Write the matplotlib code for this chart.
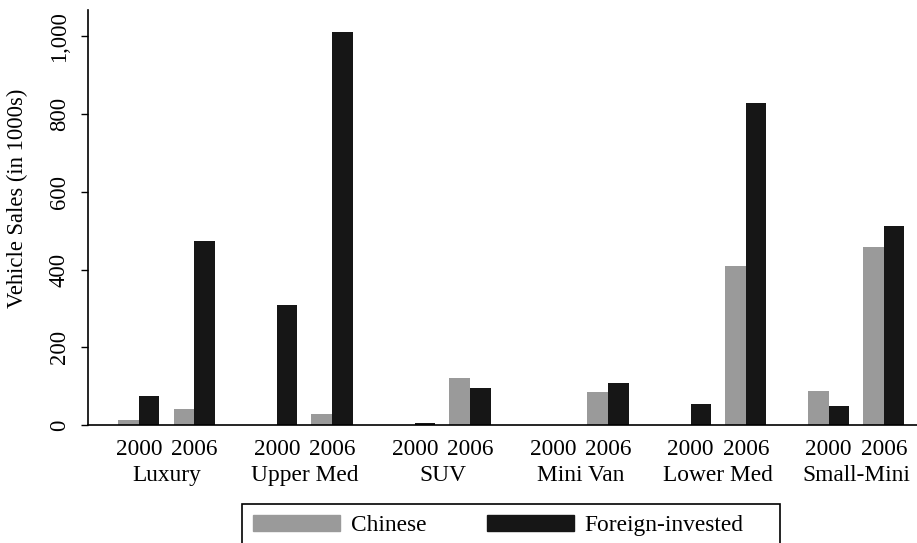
import numpy as np
import matplotlib.pyplot as plt
from matplotlib.patches import Patch, Rectangle

# Vehicle sales (in 1000s)
categories = ['Luxury', 'Upper Med', 'SUV', 'Mini Van', 'Lower Med', 'Small-Mini']
years = ['2000', '2006']
chinese_2000 = [13, 0, 0, 0, 0, 88]
foreign_2000 = [75, 309, 5, 0, 54, 49]
chinese_2006 = [41, 28, 121, 85, 409, 458]
foreign_2006 = [474, 1012, 95, 108, 829, 512]

GRAY = '#9a9a9a'
BLACK = '#161616'
FS = 16.8
W, H = 917, 543

plt.rcParams['font.family'] = ['Liberation Serif', 'DejaVu Serif']

fig = plt.figure(figsize=(W / 100, H / 100), dpi=100)
ax = fig.add_axes([88 / W, 1 - 425 / H, 1 - 88 / W, (425 - 10) / H])

centers = np.arange(len(categories))
off = 0.2     # year pair offset from category center
w = 0.149     # bar width

for yr_off, chin, forg in [(-off, chinese_2000, foreign_2000), (off, chinese_2006, foreign_2006)]:
    ax.bar(centers + yr_off - w / 2, chin, width=w, color=GRAY, linewidth=0)
    ax.bar(centers + yr_off + w / 2, forg, width=w, color=BLACK, linewidth=0)

ax.set_xlim(-0.569, 5.44)
ax.set_ylim(0, 1068)

# year labels as major ticks, category names as minor ticks below them
year_pos = np.sort(np.concatenate([centers - off, centers + off]))
ax.set_xticks(year_pos)
ax.set_xticklabels(years * len(categories), fontsize=FS)
ax.set_xticks(centers, minor=True)
ax.set_xticklabels(categories, minor=True, fontsize=FS)
ax.tick_params(axis='x', which='major', length=0, pad=10)
ax.tick_params(axis='x', which='minor', length=0, pad=29)

ax.set_yticks([0, 200, 400, 600, 800, 1000])
ax.set_yticklabels(['0', '200', '400', '600', '800', '1,000'], rotation=90,
                   va='center', fontsize=16.3)
ax.tick_params(axis='y', length=5, width=1, pad=8)
ax.set_ylabel('Vehicle Sales (in 1000s)', fontsize=16.3)
ax.yaxis.set_label_coords(-0.072, 0.547)

for s in ['top', 'right']:
    ax.spines[s].set_visible(False)
for s in ['left', 'bottom']:
    ax.spines[s].set_linewidth(1.2)

handles = [Patch(color=GRAY, label='Chinese'), Patch(color=BLACK, label='Foreign-invested')]
fig.legend(handles=handles, loc='upper left', bbox_to_anchor=(242 / W, 1 - 504 / H),
           ncol=2, fontsize=FS, frameon=False,
           handlelength=3.73, handleheight=0.69, handletextpad=0.45, columnspacing=2.6,
           borderpad=0.47, borderaxespad=0)
# legend box runs past the bottom edge of the figure
fig.patches.append(Rectangle((242 / W, -0.02), (780 - 242) / W, 0.02 + (H - 504) / H,
                             transform=fig.transFigure, fill=False, edgecolor='black',
                             linewidth=1.2))

fig.savefig('out.png', dpi=100)
